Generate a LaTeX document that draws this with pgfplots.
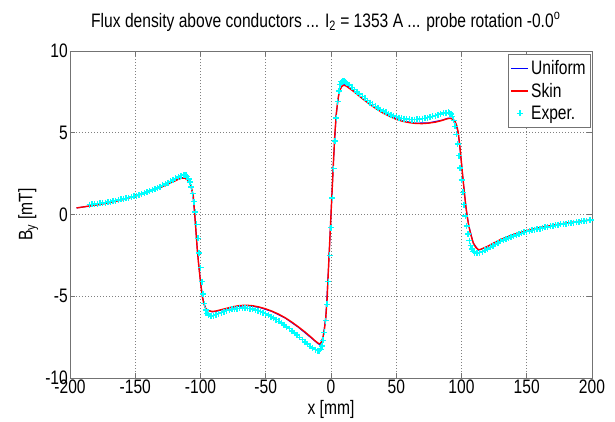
\documentclass[border=0pt]{standalone}
\usepackage{fontspec}
\setmainfont[FakeStretch=0.8]{Liberation Sans}
\usepackage{pgfplots}
\usepackage{pgfplotstable}
\pgfplotsset{compat=1.18}
\definecolor{expcyan}{RGB}{0,255,255}
\newcommand{\fs}{\fontsize{19.5}{22}\selectfont}

% model, skin effect
\pgfplotstableread{
x y
-195 0.40
-190 0.46
-185 0.52
-180 0.58
-170 0.72
-160 0.90
-150 1.12
-140 1.38
-130 1.68
-125 1.86
-120 2.04
-117 2.16
-114 2.23
-112 2.22
-110 2.12
-108 1.90
-107 1.65
-106 1.30
-105.5 1.10
-104.5 0.10
-103.5 -1.00
-102.5 -2.10
-101.5 -3.00
-100.5 -3.75
-99.5 -4.45
-98.5 -5.05
-97.5 -5.45
-96 -5.75
-94 -5.88
-91 -5.93
-88 -5.90
-85 -5.84
-80 -5.74
-75 -5.64
-70 -5.57
-65 -5.55
-60 -5.58
-55 -5.66
-50 -5.77
-45 -5.92
-40 -6.10
-35 -6.32
-30 -6.58
-25 -6.87
-20 -7.18
-15 -7.52
-12 -7.74
-10 -7.86
-9 -7.90
-8 -7.88
-7 -7.75
-6 -7.45
-5 -7.00
-4 -6.30
-3 -5.20
-2 -3.40
-1 -1.70
0 0.00
1 1.70
2 3.40
3 5.00
4 6.10
5 6.85
6 7.35
7 7.65
8 7.80
9 7.88
10 7.90
11 7.88
12 7.84
14 7.72
17 7.55
20 7.35
25 7.03
30 6.72
35 6.45
40 6.20
45 6.00
50 5.82
55 5.70
60 5.62
65 5.57
70 5.56
75 5.59
80 5.65
85 5.75
88 5.83
90 5.87
92 5.87
93.5 5.82
95 5.70
96.5 5.40
97.5 5.00
98.5 4.35
99.5 3.55
100.5 2.70
101.5 1.90
102.5 1.10
103.5 0.40
104.5 -0.20
105.5 -0.65
107 -1.20
109 -1.73
111 -2.02
113 -2.15
115 -2.13
117 -2.05
120 -1.95
125 -1.73
130 -1.53
140 -1.22
150 -0.98
160 -0.80
170 -0.66
180 -0.53
190 -0.42
200 -0.33
}\skin

% model, uniform current
\pgfplotstableread{
x y
-195 0.40
-185 0.52
-170 0.72
-150 1.12
-130 1.69
-120 2.06
-114 2.26
-112 2.25
-110 2.14
-108 1.91
-106 1.30
-104.5 0.10
-102.5 -2.10
-100.5 -3.75
-98.5 -5.05
-96 -5.77
-91 -5.96
-85 -5.87
-75 -5.66
-65 -5.57
-55 -5.68
-45 -5.94
-35 -6.34
-25 -6.90
-15 -7.56
-10 -7.90
-9 -7.94
-8 -7.92
-6 -7.48
-4 -6.30
-2 -3.40
0 0.00
2 3.40
4 6.12
6 7.38
8 7.84
10 7.94
12 7.88
17 7.58
25 7.05
35 6.47
45 6.02
55 5.72
65 5.59
75 5.61
85 5.77
90 5.90
92 5.90
95 5.72
97.5 5.00
99.5 3.55
101.5 1.90
103.5 0.40
105.5 -0.65
109 -1.75
113 -2.18
117 -2.07
125 -1.74
140 -1.22
160 -0.80
180 -0.53
200 -0.33
}\uniform

% measured
\pgfplotstableread{
x y
-185 0.60
-183 0.62
-181 0.64
-179 0.66
-177 0.68
-175 0.71
-173 0.73
-171 0.76
-169 0.79
-167 0.82
-165 0.85
-163 0.88
-161 0.92
-159 0.95
-157 0.99
-155 1.03
-153 1.07
-151 1.11
-149 1.16
-147 1.21
-145 1.26
-143 1.31
-141 1.37
-139 1.43
-137 1.49
-135 1.56
-133 1.63
-131 1.70
-129 1.78
-127 1.86
-125 1.94
-123 2.03
-121 2.12
-119 2.21
-117 2.30
-115 2.37
-113 2.42
-112 2.43
-111 2.40
-110 2.32
-109 2.18
-108 1.98
-107 1.68
-106 1.28
-105 0.78
-104 0.15
-103 -0.60
-102 -1.45
-101 -2.35
-100 -3.25
-99 -4.10
-98 -4.85
-97 -5.45
-96 -5.85
-95 -6.05
-94 -6.15
-92 -6.20
-90 -6.18
-88 -6.12
-86 -6.06
-84 -6.00
-82 -5.94
-80 -5.88
-78 -5.84
-76 -5.80
-74 -5.77
-72 -5.75
-70 -5.74
-68 -5.73
-66 -5.73
-64 -5.74
-62 -5.76
-60 -5.79
-58 -5.83
-56 -5.88
-54 -5.94
-52 -6.00
-50 -6.07
-48 -6.15
-46 -6.24
-44 -6.33
-42 -6.43
-40 -6.53
-38 -6.64
-36 -6.75
-34 -6.87
-32 -6.99
-30 -7.12
-28 -7.25
-26 -7.38
-24 -7.52
-22 -7.66
-20 -7.80
-18 -7.93
-16 -8.06
-14 -8.17
-12 -8.27
-10 -8.32
-9 -8.32
-8 -8.25
-7 -8.05
-6 -7.70
-5 -7.20
-4 -6.50
-3 -5.50
-2 -4.10
-1 -2.50
0 -0.80
1 1.00
2 2.80
3 4.50
4 5.90
5 6.90
6 7.55
7 7.95
8 8.12
9 8.18
10 8.17
11 8.12
12 8.05
14 7.92
16 7.78
18 7.64
20 7.50
22 7.36
24 7.23
26 7.10
28 6.97
30 6.85
32 6.73
34 6.62
36 6.51
38 6.41
40 6.32
42 6.24
44 6.16
46 6.09
48 6.03
50 5.98
52 5.93
54 5.89
56 5.86
58 5.84
60 5.82
62 5.81
64 5.81
66 5.82
68 5.84
70 5.86
72 5.89
74 5.92
76 5.96
78 6.00
80 6.05
82 6.10
84 6.15
86 6.20
88 6.23
90 6.24
91 6.22
92 6.15
93 6.00
94 5.75
95 5.40
96 4.90
97 4.30
98 3.60
99 2.85
100 2.10
101 1.35
102 0.60
103 -0.10
104 -0.70
105 -1.20
106 -1.60
107 -1.90
108 -2.12
109 -2.26
110 -2.33
112 -2.36
114 -2.33
116 -2.27
118 -2.19
120 -2.10
122 -2.01
124 -1.92
126 -1.83
128 -1.74
130 -1.65
132 -1.57
134 -1.50
136 -1.43
138 -1.37
140 -1.31
142 -1.25
144 -1.20
146 -1.15
148 -1.10
150 -1.05
152 -1.01
154 -0.97
156 -0.93
158 -0.89
160 -0.86
162 -0.82
164 -0.79
166 -0.76
168 -0.73
170 -0.70
172 -0.67
174 -0.64
176 -0.61
178 -0.59
180 -0.56
182 -0.54
184 -0.51
186 -0.49
188 -0.47
190 -0.45
192 -0.42
194 -0.40
196 -0.38
198 -0.35
199 -0.34
}\exper

\begin{document}
\begin{tikzpicture}
\begin{axis}[
    scale only axis,
    width=522pt, height=327pt,
    xmin=-200, xmax=200, ymin=-10, ymax=10,
    xtick={-200,-150,...,200},
    ytick={-10,-5,...,10},
    xticklabels={-200,-150,-100,-50,0,50,100,150,200},
    yticklabels={-10,-5,0,5,10},
    tick align=inside, tick pos=both,
    major tick length=5pt,
    grid=major,
    major grid style={black!50, dash pattern=on 1pt off 2pt, line width=0.6pt},
    axis line style={black!55, line width=0.8pt},
    every tick/.style={black!55, line width=0.8pt},
    tick label style={font=\fs},
    xticklabel style={inner sep=2pt},
    yticklabel style={inner sep=2pt},
    xlabel={x [mm]},
    ylabel={B\textsubscript{y} [mT]},
    every axis x label/.style={at={(axis description cs:0.5,-0.095)}, anchor=center, font=\fs},
    every axis y label/.style={at={(axis description cs:-0.08,0.5)}, rotate=90, anchor=center, font=\fs},
    title={Flux density above conductors ... I\textsubscript{2} = 1353 A ... probe rotation -0.0\textsuperscript{o}},
    every axis title/.style={at={(axis description cs:0.49,1.073)}, anchor=base, font=\fs},
    legend style={at={(axis description cs:0.996,0.991)}, anchor=north east,
        draw=black!55, fill=white, font=\fs, inner xsep=2pt, inner ysep=3pt,
        nodes={inner ysep=3.5pt}},
    legend cell align=left,
]
\addplot[blue, line width=1pt] table[x=x, y=y] {\uniform};
\addlegendentry{Uniform}
\addplot[red, line width=1.4pt] table[x=x, y=y] {\skin};
\addlegendentry{Skin}
\addplot[expcyan, only marks, mark=+, mark size=3pt, mark options={line width=1.4pt}] table[x=x, y=y] {\exper};
\addlegendentry{Exper.}
\end{axis}
\pgfresetboundingbox
\useasboundingbox ([xshift=-70pt,yshift=-43pt]current axis.south west) rectangle ([xshift=23pt,yshift=51pt]current axis.north east);
\end{tikzpicture}
\end{document}
